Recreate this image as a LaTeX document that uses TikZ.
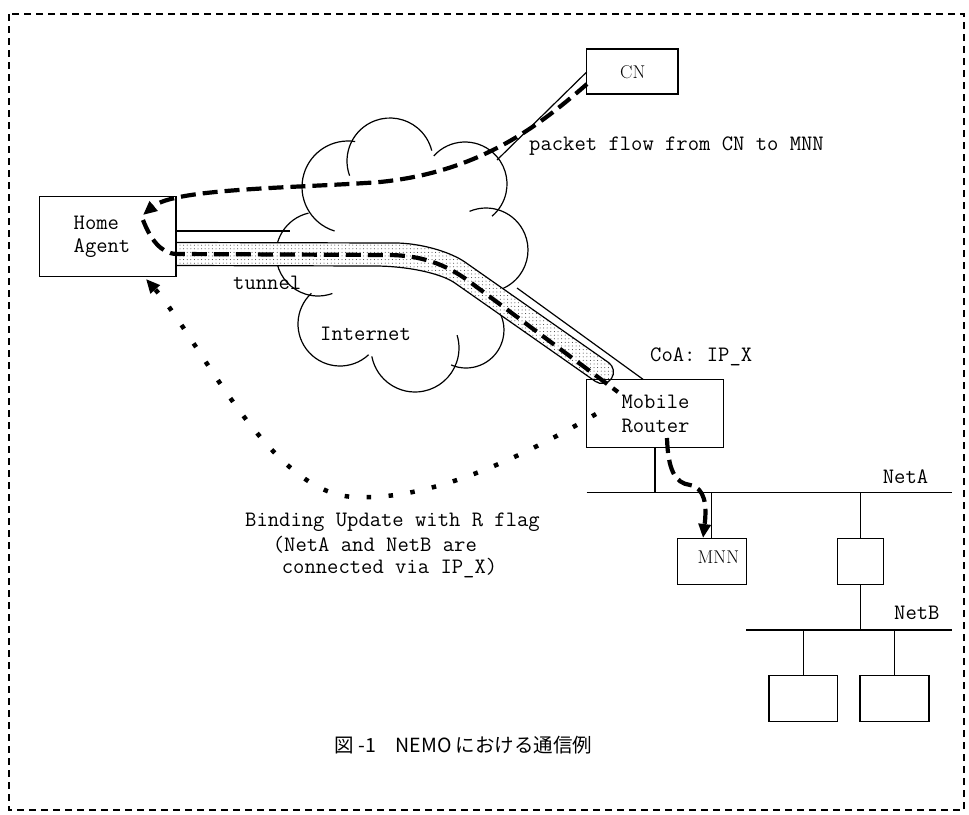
\documentclass[tikz,border=0pt]{standalone}
\usepackage{fontspec}
\newfontfamily\jpfont{Noto Sans CJK JP}
\usetikzlibrary{arrows.meta,patterns}
\pgfdeclarepatternformonly{sparsedots}{\pgfqpoint{-1pt}{-1pt}}{\pgfqpoint{1pt}{1pt}}{\pgfqpoint{3.6pt}{3.6pt}}%
  {\pgfpathcircle{\pgfqpoint{0pt}{0pt}}{0.5pt}\pgfusepath{fill}}
\begin{document}
\begin{tikzpicture}[x=1pt,y=-1pt,
  thin/.style={line width=1.2pt},
  box/.style={draw,line width=1.2pt,inner sep=0pt,outer sep=0pt},
  mono/.style={font=\fontsize{22}{23.3}\selectfont\ttfamily,inner sep=0pt},
  serif/.style={font=\fontsize{18.5}{20}\selectfont,inner sep=0pt},
  flow/.style={line width=4.2pt,dash pattern=on 15pt off 7pt},
  bu/.style={line width=4.5pt,dash pattern=on 4.5pt off 17.5pt},
  tip/.style={-{Triangle[length=14pt,width=12pt]}},
  border/.style={line width=2.5pt,dash pattern=on 7pt off 5pt}]
\useasboundingbox (0,0) rectangle (969,814);
% frame
\draw[border] (9,14) rectangle (964,810);
% cloud
\begin{scope}[thin]
\draw ([shift={(107:46)}]348,187) arc[start angle=107,end angle=279,radius=46];
\draw ([shift={(160:43)}]390,161) arc[start angle=160,end angle=346,radius=43];
\draw ([shift={(222:42)}]465,184) arc[start angle=222,end angle=410,radius=42];
\draw ([shift={(247:42)}]486,250) arc[start angle=247,end angle=430,radius=42];
\draw ([shift={(113:38)}]466,330) arc[start angle=113,end angle=-40,radius=38];
\draw ([shift={(169:44)}]415,348) arc[start angle=169,end angle=-17,radius=44];
\draw ([shift={(227:42)}]340,324) arc[start angle=227,end angle=47,radius=42];
\draw ([shift={(257:42)}]318,254) arc[start angle=257,end angle=70,radius=42];
\end{scope}
% tunnel band
\def\bandpath{(176,242.5) -- (395,243) .. controls (420,243) and (450,251.6) .. (465,262.1) -- (608.6,362.6)
  arc[start angle=-55,end angle=125,radius=11.5]
  -- (455,283.1) .. controls (440,272.6) and (405,266) .. (375,266) -- (176,265.5) -- cycle}
\fill[white] \bandpath;
\fill[pattern=sparsedots,pattern color=black!80] \bandpath;
\draw[thin] \bandpath;
% boxes
\node[box,minimum width=136.7pt,minimum height=80pt] (HA) at (107.7,236.7) {};
\node[box,minimum width=91.3pt,minimum height=45pt] (CN) at (632.3,71.5) {};
\node[box,minimum width=136.6pt,minimum height=68pt] (MR) at (655,413.3) {};
\node[box,minimum width=68.6pt,minimum height=46.4pt] (MNN) at (712,561.5) {};
\node[box,minimum width=46pt,minimum height=46.4pt] (R1) at (860.3,561.5) {};
\node[box,minimum width=68.7pt,minimum height=46pt] (H1) at (803.3,698.7) {};
\node[box,minimum width=69pt,minimum height=46pt] (H2) at (894.5,698.7) {};
% thin link lines
\coordinate (haT) at (176,231);
\coordinate (haTe) at (290,231);
\coordinate (coaA) at (517,288);
\coordinate (coaB) at (643,379.3);
\coordinate (cnA) at (586.7,72);
\coordinate (cnB) at (497,160);
\draw[thin] (haT) -- (haTe);
\draw[thin] (coaA) -- (coaB);
\draw[thin] (cnA) -- (cnB);
% networks
\coordinate (netaL) at (586.7,492.7);
\coordinate (netaR) at (951.7,492.7);
\coordinate (netbL) at (746,630);
\coordinate (netbR) at (951.7,630);
\draw[thin] (netaL) -- (netaR);
\draw[thin] (netbL) -- (netbR);
\draw[thin] (MR.south) -- (MR.south |- netaL);
\draw[thin] (711.7,492.7) -- (711.7,538.3);
\draw[thin] (R1.north) -- (R1.north |- netaL);
\draw[thin] (R1.south) -- (R1.south |- netbL);
\draw[thin] (H1.north) -- (H1.north |- netbL);
\draw[thin] (H2.north) -- (H2.north |- netbL);
% texts
\node[mono,align=left] (tHA) at (102,237) {Home\\Agent};
\node[mono,align=left] (tMR) at (655.5,414) {Mobile\\Router};
\node[serif] (tCN) at (632.8,71.7) {CN};
\node[serif] (tMNN) at (718.4,557) {MNN};
\node[mono,anchor=west] (tpf) at (529,146) {packet flow from CN to MNN};
\node[mono,anchor=west] (ttun) at (233,283) {tunnel};
\node[mono,anchor=west] (tint) at (320,334) {Internet};
\node[mono,anchor=west] (tcoa) at (650,357) {CoA: IP\_X};
\node[mono,anchor=west] (tneta) at (882.7,477) {NetA};
\node[mono,anchor=west] (tnetb) at (894,613) {NetB};
\node[mono,anchor=west] (tbu1) at (245,522.7) {Binding Update with R flag};
\node[mono,anchor=west] (tbu2) at (272.7,545) {(NetA and NetB are};
\node[mono,anchor=west] (tbu3) at (281.7,568.3) {connected via IP\_X)};
\node[font=\jpfont\fontsize{19.5}{22}\selectfont,inner sep=0pt] (cap) at (463.5,745) {図 -1　NEMO における通信例};
% flows
\draw[flow,tip] (587,84) .. controls (540,125) and (480,172) .. (380,182)
  .. controls (300,188) and (175,188) .. (143,215);
\draw[flow] (143,220) .. controls (150,238) and (160,253) .. (176,254) -- (390,255)
  .. controls (420,255.5) and (445,263.4) .. (470,282) -- (618,392);
\draw[flow,tip] (667,438) .. controls (668,470) and (675,483) .. (690,485)
  .. controls (705,488) and (707,505) .. (703,538);
\draw[bu,tip] (596,414) .. controls (500,470) and (420,500) .. (355,497)
  .. controls (270,495) and (200,340) .. (146,279);
\end{tikzpicture}
\end{document}
